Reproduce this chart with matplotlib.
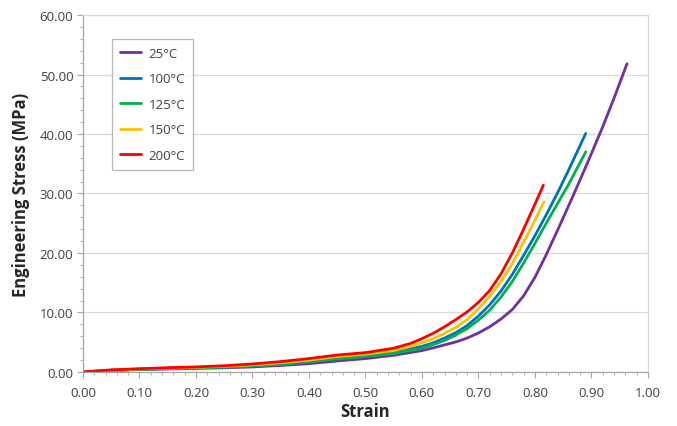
import matplotlib
matplotlib.use("Agg")
import matplotlib.pyplot as plt
from matplotlib.ticker import MultipleLocator, FormatStrFormatter

labels = ["25°C", "100°C", "125°C", "150°C", "200°C"]
colors = ["#7030A0", "#0070C0", "#00B050", "#FFC000", "#FF0000"]

strain_25 = [0, 0.05, 0.10, 0.15, 0.20, 0.25, 0.30, 0.35, 0.40, 0.45, 0.50, 0.55, 0.60, 0.62, 0.64, 0.66, 0.68, 0.70, 0.72, 0.74, 0.76, 0.78, 0.80, 0.82, 0.84, 0.86, 0.88, 0.90, 0.92, 0.94, 0.963]
stress_25 = [0, 0.25, 0.40, 0.50, 0.60, 0.70, 0.85, 1.10, 1.40, 1.85, 2.25, 2.80, 3.60, 4.05, 4.55, 5.05, 5.70, 6.55, 7.60, 8.90, 10.5, 12.8, 15.9, 19.7, 23.8, 28.0, 32.3, 36.7, 41.2, 46.0, 51.8]

strain_100 = [0, 0.05, 0.10, 0.15, 0.20, 0.25, 0.30, 0.35, 0.40, 0.45, 0.50, 0.55, 0.60, 0.62, 0.64, 0.66, 0.68, 0.70, 0.72, 0.74, 0.76, 0.78, 0.80, 0.82, 0.84, 0.86, 0.89]
stress_100 = [0, 0.30, 0.48, 0.60, 0.72, 0.85, 1.05, 1.35, 1.75, 2.25, 2.70, 3.30, 4.30, 4.90, 5.70, 6.60, 7.80, 9.40, 11.3, 13.6, 16.4, 19.6, 22.9, 26.4, 30.1, 34.0, 40.1]

strain_125 = [0, 0.05, 0.10, 0.15, 0.20, 0.25, 0.30, 0.35, 0.40, 0.45, 0.50, 0.55, 0.60, 0.62, 0.64, 0.66, 0.68, 0.70, 0.72, 0.74, 0.76, 0.78, 0.80, 0.82, 0.84, 0.86, 0.89]
stress_125 = [0, 0.28, 0.45, 0.57, 0.68, 0.80, 1.00, 1.30, 1.70, 2.20, 2.60, 3.10, 4.00, 4.60, 5.30, 6.20, 7.30, 8.70, 10.4, 12.6, 15.2, 18.3, 21.6, 25.0, 28.3, 31.6, 37.0]

strain_150 = [0, 0.05, 0.10, 0.15, 0.20, 0.25, 0.30, 0.35, 0.40, 0.45, 0.50, 0.55, 0.58, 0.60, 0.62, 0.64, 0.66, 0.68, 0.70, 0.72, 0.74, 0.76, 0.78, 0.80, 0.816]
stress_150 = [0, 0.30, 0.50, 0.65, 0.78, 0.95, 1.20, 1.55, 2.00, 2.60, 3.00, 3.60, 4.30, 4.90, 5.60, 6.50, 7.50, 8.80, 10.6, 12.7, 15.2, 18.2, 21.8, 25.5, 28.6]

strain_200 = [0, 0.05, 0.10, 0.15, 0.20, 0.25, 0.30, 0.35, 0.40, 0.45, 0.50, 0.55, 0.58, 0.60, 0.62, 0.64, 0.66, 0.68, 0.70, 0.72, 0.74, 0.76, 0.78, 0.80, 0.815]
stress_200 = [0, 0.35, 0.55, 0.72, 0.85, 1.05, 1.35, 1.75, 2.25, 2.85, 3.25, 4.00, 4.80, 5.60, 6.50, 7.60, 8.80, 10.1, 11.7, 13.7, 16.5, 20.0, 24.0, 28.2, 31.4]

series = [(strain_25, stress_25), (strain_100, stress_100), (strain_125, stress_125),
          (strain_150, stress_150), (strain_200, stress_200)]

plt.rcParams['font.family'] = ['Open Sans', 'DejaVu Sans']

fig = plt.figure(figsize=(6.77, 4.27), dpi=100)
ax = fig.add_axes([0.1226, 0.1265, 0.8344, 0.836])

for (x, y), lab, c in zip(series, labels, colors):
    ax.plot(x, y, color=c, lw=2.0, label=lab, solid_capstyle='round', solid_joinstyle='round')

ax.set_xlim(0, 1.0)
ax.set_ylim(0, 60)
ax.xaxis.set_major_locator(MultipleLocator(0.1))
ax.xaxis.set_minor_locator(MultipleLocator(0.02))
ax.yaxis.set_major_locator(MultipleLocator(10))
ax.yaxis.set_minor_locator(MultipleLocator(2))
ax.xaxis.set_major_formatter(FormatStrFormatter('%.2f'))
ax.yaxis.set_major_formatter(FormatStrFormatter('%.2f'))

ax.grid(axis='y', which='major', color='#D9D9D9', lw=0.9)
ax.set_axisbelow(True)
for s in ['left', 'bottom']:
    ax.spines[s].set_color('#A6A6A6')
    ax.spines[s].set_linewidth(0.9)
for s in ['top', 'right']:
    ax.spines[s].set_color('#D9D9D9')
    ax.spines[s].set_linewidth(0.9)

ax.tick_params(axis='both', which='major', direction='out', length=4, color='#A6A6A6',
               labelsize=9.5, labelcolor='#404040', pad=3)
ax.tick_params(axis='both', which='minor', direction='out', length=2.5, color='#A6A6A6')
ax.tick_params(axis='x', which='major', pad=6)

ax.set_xlabel('Strain', fontsize=12, fontweight='bold', color='#262626', labelpad=2)
ax.set_ylabel('Engineering Stress (MPa)', fontsize=12, fontweight='bold', color='#262626', labelpad=7)

leg = ax.legend(loc='upper left', bbox_to_anchor=(0.051, 0.933), fontsize=9.5,
                frameon=True, fancybox=False, edgecolor='#A6A6A6', handlelength=1.65,
                labelspacing=0.95, borderpad=0.6, handletextpad=0.55, borderaxespad=0)
leg.get_frame().set_linewidth(0.9)
for t in leg.get_texts():
    t.set_color('#404040')

fig.savefig('out.png', dpi=100)
